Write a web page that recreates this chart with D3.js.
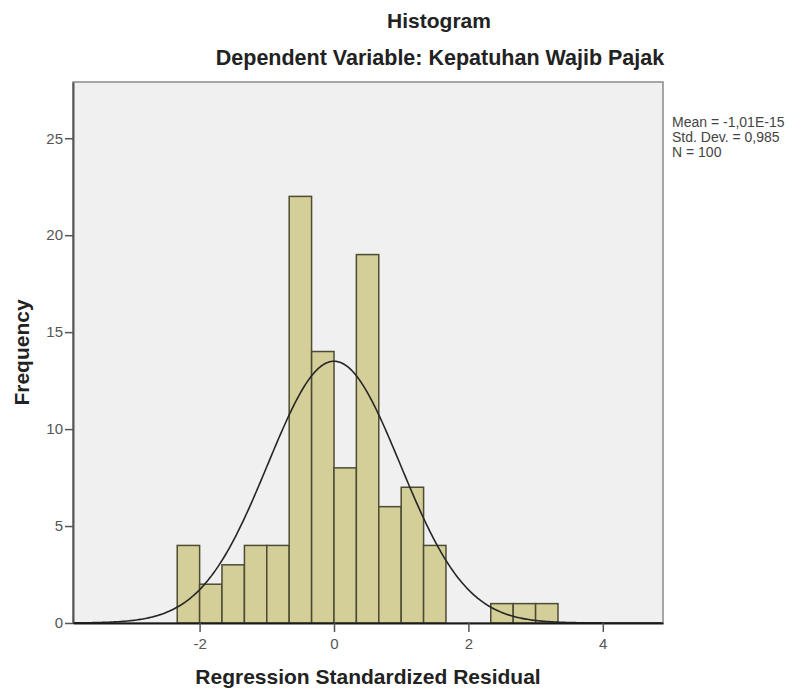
<!DOCTYPE html>
<html>
<head>
<meta charset="utf-8">
<script src="https://cdn.jsdelivr.net/npm/d3@7"></script>
<style>
  html, body { margin: 0; padding: 0; background: #fff; }
  svg { display: block; font-family: "Liberation Sans", Arial, sans-serif; }
</style>
</head>
<body>
<svg id="chart" width="798" height="693"></svg>
<script>
// Data
const binLow = [-2.333, -2.0, -1.667, -1.333, -1.0, -0.667, -0.333, 0.0, 0.333, 0.667, 1.0, 1.333, 2.333, 2.667, 3.0];
const binWidth = 0.3333;
const freq = [4, 2, 3, 4, 4, 22, 14, 8, 19, 6, 7, 4, 1, 1, 1];
const xTicks = [-2, 0, 2, 4];
const yTicks = [0, 5, 10, 15, 20, 25];
const statLabels = ["Mean = -1,01E-15", "Std. Dev. = 0,985", "N = 100"];
const stats = { mean: -1.01e-15, sd: 0.985, n: 100 };

const svg = d3.select("#chart");
const plot = { left: 73, right: 663, top: 82, bottom: 623 };

// Scales
const x = d3.scaleLinear().domain([-3.884, 4.896]).range([plot.left, plot.right]);
const y = d3.scaleLinear().domain([0, 27.9]).range([plot.bottom, plot.top]);

// Plot background
svg.append("rect")
    .attr("x", plot.left).attr("y", plot.top)
    .attr("width", plot.right - plot.left)
    .attr("height", plot.bottom - plot.top)
    .attr("fill", "#f0f0f0")
    .attr("stroke", "#8a8a8a")
    .attr("stroke-width", 1.5);

// Bars
const bins = binLow.map((lo, i) => ({ lo: lo, hi: lo + binWidth, f: freq[i] }));
svg.append("g").selectAll("rect")
    .data(bins)
    .enter().append("rect")
    .attr("x", d => x(d.lo))
    .attr("y", d => y(d.f))
    .attr("width", d => x(d.hi) - x(d.lo))
    .attr("height", d => y(0) - y(d.f))
    .attr("fill", "#d4cf98")
    .attr("stroke", "#4d4b34")
    .attr("stroke-width", 1.5);

// Normal curve from the stats in the legend
const dens = v => stats.n * binWidth / (stats.sd * Math.sqrt(2 * Math.PI)) *
    Math.exp(-0.5 * Math.pow((v - stats.mean) / stats.sd, 2));
const curvePts = d3.range(x.domain()[0], x.domain()[1], 0.02).map(v => [v, dens(v)]);
svg.append("path")
    .datum(curvePts)
    .attr("fill", "none")
    .attr("stroke", "#262626")
    .attr("stroke-width", 1.6)
    .attr("d", d3.line().x(d => x(d[0])).y(d => y(d[1])));

// Axes (plain hyphen minus like the original)
const fmt = d => String(d);
const yAxis = svg.append("g")
    .attr("transform", `translate(${plot.left},0)`)
    .call(d3.axisLeft(y).tickValues(yTicks).tickSizeInner(8).tickSizeOuter(0).tickPadding(2).tickFormat(fmt));
yAxis.select(".domain").attr("stroke", "#555").attr("stroke-width", 2);
yAxis.selectAll(".tick line").attr("stroke", "#555").attr("stroke-width", 1.5);
yAxis.selectAll("text").attr("fill", "#555").style("font-size", "15px");

const xAxis = svg.append("g")
    .attr("transform", `translate(0,${plot.bottom})`)
    .call(d3.axisBottom(x).tickValues(xTicks).tickSizeInner(9).tickSizeOuter(0).tickPadding(6).tickFormat(fmt));
xAxis.select(".domain").attr("stroke", "#1a1a1a").attr("stroke-width", 2.2);
xAxis.selectAll(".tick line").attr("stroke", "#555").attr("stroke-width", 1.5);
xAxis.selectAll("text").attr("fill", "#555").style("font-size", "15px");

// Titles
svg.append("text")
    .attr("x", 439).attr("y", 28)
    .attr("text-anchor", "middle")
    .style("font-size", "21px").style("font-weight", "bold").attr("fill", "#222")
    .text("Histogram");
svg.append("text")
    .attr("x", 440).attr("y", 65)
    .attr("text-anchor", "middle")
    .style("font-size", "21.5px").style("font-weight", "bold").attr("fill", "#222")
    .text("Dependent Variable: Kepatuhan Wajib Pajak");

// Axis labels
svg.append("text")
    .attr("x", (plot.left + plot.right) / 2).attr("y", 684)
    .attr("text-anchor", "middle")
    .style("font-size", "21px").style("font-weight", "bold").attr("fill", "#222")
    .text("Regression Standardized Residual");
svg.append("text")
    .attr("transform", `translate(29,${(plot.top + plot.bottom) / 2}) rotate(-90)`)
    .attr("text-anchor", "middle")
    .style("font-size", "21px").style("font-weight", "bold").attr("fill", "#222")
    .text("Frequency");

// Stats legend
svg.append("g").selectAll("text")
    .data(statLabels)
    .enter().append("text")
    .attr("x", 672)
    .attr("y", (d, i) => 127 + i * 15)
    .style("font-size", "14px").attr("fill", "#444")
    .text(d => d);
</script>
</body>
</html>
